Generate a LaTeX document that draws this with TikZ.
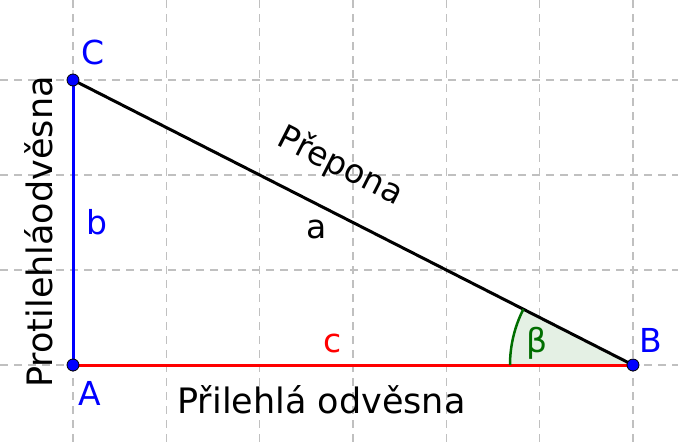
\documentclass[tikz,border=0pt]{standalone}
\usepackage{fontspec}
\setmainfont{DejaVu Sans}
\definecolor{gridgray}{RGB}{192,192,192}
\definecolor{anggreen}{RGB}{0,110,0}
\definecolor{angfill}{RGB}{228,240,228}
\begin{document}
\begin{tikzpicture}[x=1pt,y=-1pt,
  gridline/.style={draw=gridgray, line width=1.4pt, dash pattern=on 8pt off 6pt},
  seg/.style={line width=3pt},
  pt/.style={circle, fill=blue, draw=black, line width=0.8pt, inner sep=0pt, minimum size=12pt},
  lbl/.style={font=\fontsize{33}{40}\selectfont, inner sep=0pt, anchor=base},
  bigtxt/.style={font=\fontsize{35}{42}\selectfont, inner sep=0pt, anchor=base},
  ]
\useasboundingbox (0,0) rectangle (678,445);
% grid
\foreach \x in {73,166.33,259.67,353,446.33,539.67,633}
  \draw[gridline] (\x,0) -- (\x,445);
\foreach \y in {80,175,270,365}
  \draw[gridline] (0,\y) -- (678,\y);
% points
\coordinate (A) at (73,365);
\coordinate (B) at (633,365);
\coordinate (C) at (73,80);
% angle beta
\fill[angfill] (B) -- ++(180:123) arc[start angle=180, end angle=206.97, radius=123] -- cycle;
% sides
\draw[seg, blue] (C) -- (A);
\draw[seg, red] (A) -- (B);
\draw[seg, black] (C) -- (B);
\draw[anggreen, line width=2.5pt] (B) ++(180:123) arc[start angle=180, end angle=206.97, radius=123];
% point markers
\node[pt] (pA) at (A) {};
\node[pt] (pB) at (B) {};
\node[pt] (pC) at (C) {};
% labels
\node[lbl, text=blue] (lC) at (93,64) {C};
\node[lbl, text=blue] (lA) at (90,405) {A};
\node[lbl, text=blue] (lB) at (651,352) {B};
\node[lbl, text=blue] (lb) at (97,234) {b};
\node[lbl, text=red] (lc) at (333,352) {c};
\node[lbl, text=black] (la) at (317,238) {a};
\node[lbl, text=anggreen] (lbeta) at (537,352) {β};
\node[lbl] (prepona) at (336,175) [rotate=-27] {Přepona};
\node[bigtxt] (prilehla) at (321.5,413) {Přilehlá odvěsna};
\node[bigtxt] (protilehla) at (52,232) [rotate=90] {Protilehláodvěsna};
\end{tikzpicture}
\end{document}
